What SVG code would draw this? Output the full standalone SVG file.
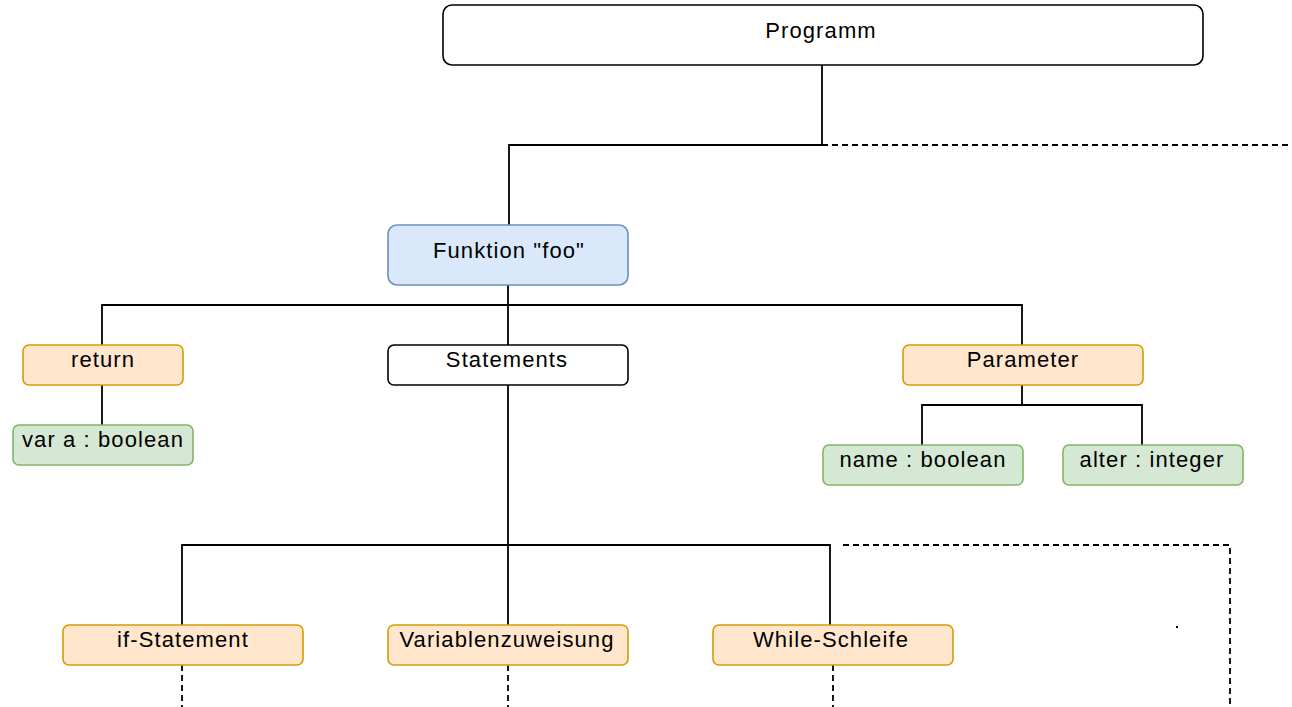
<svg xmlns="http://www.w3.org/2000/svg" width="1292" height="707" viewBox="0 0 1292 707">
<style>
.box{stroke-width:1.6}
.plain{fill:#ffffff;stroke:#000000}
.blue{fill:#dae8fc;stroke:#6c8ebf}
.orange{fill:#ffe6cc;stroke:#d79b00}
.green{fill:#d5e8d4;stroke:#82b366}
text{font-family:"Liberation Sans",Arial,sans-serif;font-size:22px;letter-spacing:1.1px;fill:#000;text-anchor:middle}
.ln{fill:none;stroke:#000;stroke-width:1.8}
.dash{fill:none;stroke:#000;stroke-width:1.8;stroke-dasharray:6 4}
</style>
<rect width="1292" height="707" fill="#ffffff"/>
<g id="connectors">
<path class="ln" d="M822 65 V145 H509 V225"/>
<path class="dash" d="M822 145 H1292"/>
<path class="ln" d="M508 285 V305 M102 345 V305 H1022 V345 M508 305 V345"/>
<path class="ln" d="M102 385 V425"/>
<path class="ln" d="M1022 385 V405 M922 445 V405 H1142 V445"/>
<path class="ln" d="M508 385 V625 M182 625 V545 H830 V625"/>
<path class="dash" d="M843 545 H1230 V707"/>
<path class="dash" d="M182 665 V707 M508 665 V707 M833 665 V707"/>
</g>
<g id="n-programm"><rect class="box plain" x="443" y="5" width="760" height="60" rx="9"/><text x="821" y="38">Programm</text></g>
<g id="n-funktion"><rect class="box blue" x="388" y="225" width="240" height="60" rx="9"/><text x="509" y="258">Funktion "foo"</text></g>
<g id="n-return"><rect class="box orange" x="23" y="345" width="160" height="40" rx="6"/><text x="103" y="367">return</text></g>
<g id="n-vara"><rect class="box green" x="13" y="425" width="180" height="40" rx="6"/><text x="103" y="447">var a : boolean</text></g>
<g id="n-statements"><rect class="box plain" x="388" y="345" width="240" height="40" rx="6"/><text x="507" y="367">Statements</text></g>
<g id="n-parameter"><rect class="box orange" x="903" y="345" width="240" height="40" rx="6"/><text x="1023" y="367">Parameter</text></g>
<g id="n-name"><rect class="box green" x="823" y="445" width="200" height="40" rx="6"/><text x="923" y="467">name : boolean</text></g>
<g id="n-alter"><rect class="box green" x="1063" y="445" width="180" height="40" rx="6"/><text x="1152" y="467">alter : integer</text></g>
<g id="n-if"><rect class="box orange" x="63" y="625" width="240" height="40" rx="6"/><text x="183" y="647">if-Statement</text></g>
<g id="n-var"><rect class="box orange" x="388" y="625" width="240" height="40" rx="6"/><text x="507" y="647">Variablenzuweisung</text></g>
<g id="n-while"><rect class="box orange" x="713" y="625" width="240" height="40" rx="6"/><text x="831" y="647">While-Schleife</text></g>
<rect x="1176" y="626" width="2" height="2" fill="#000"/>
</svg>
